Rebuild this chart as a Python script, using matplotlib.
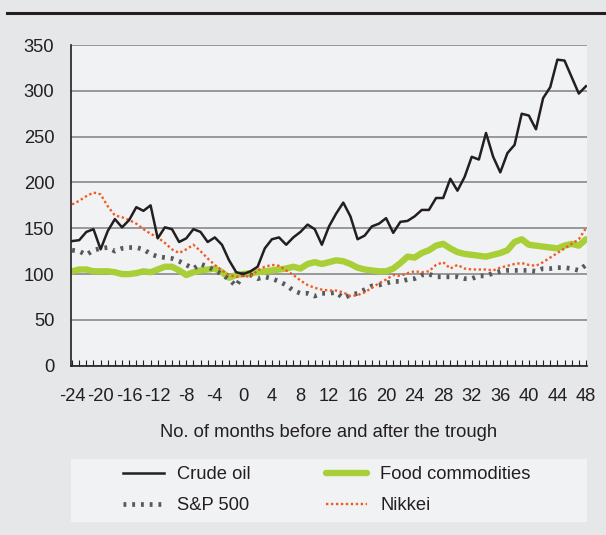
import matplotlib
matplotlib.use('Agg')
import matplotlib.pyplot as plt
from matplotlib.lines import Line2D
from matplotlib.patches import Rectangle
from matplotlib.ticker import MultipleLocator

plt.rcParams['font.family'] = ['Liberation Sans', 'DejaVu Sans']
plt.rcParams['axes.unicode_minus'] = False

# months relative to the trough
months = list(range(-24, 49))

crude_oil = [
    136, 137, 146, 149, 127, 147, 160, 151, 159, 173, 169, 175,   # -24..-13
    139, 151, 149, 135, 139, 149, 146, 135, 140, 132, 115, 102,   # -12..-1
    100, 103, 108, 128, 138, 140, 132, 140, 146, 154, 149, 132,   # 0..11
    152, 166, 178, 163, 138, 142, 152, 155, 161, 145, 157, 158,   # 12..23
    163, 170, 170, 183, 183, 204, 191, 206, 228, 225, 254, 228,   # 24..35
    211, 232, 241, 275, 273, 258, 292, 304, 334, 333, 315, 297,   # 36..47
    305,                                                          # 48
]

food = [
    103, 105, 105, 103, 103, 103, 102, 100, 100, 101, 103, 102,
    105, 108, 108, 104, 99, 102, 104, 105, 106, 102, 96, 99,
    100, 101, 102, 103, 104, 105, 106, 108, 106, 111, 113, 111,
    113, 115, 114, 111, 107, 105, 104, 103, 103, 106, 112, 119,
    118, 123, 126, 131, 133, 128, 124, 122, 121, 120, 119, 121,
    123, 126, 135, 138, 132, 131, 130, 129, 128, 131, 133, 131,
    138,
]

sp500 = [
    126, 125, 121, 126, 128, 129, 125, 128, 129, 129, 127, 122,
    119, 118, 117, 114, 110, 106, 111, 108, 104, 100, 94, 87,
    100, 99, 95, 97, 95, 92, 88, 82, 79, 79, 76, 79,
    79, 80, 74, 77, 79, 83, 87, 88, 90, 92, 92, 94,
    95, 99, 100, 97, 97, 97, 97, 95, 95, 98, 98, 101,
    103, 104, 104, 104, 104, 103, 106, 106, 107, 107, 106, 104,
    110,
]

nikkei = [
    176, 180, 185, 189, 187, 174, 164, 162, 159, 155, 149, 144,
    140, 134, 127, 123, 127, 132, 125, 117, 110, 104, 99, 97,
    98, 97, 104, 108, 110, 109, 104, 99, 93, 88, 85, 83,
    82, 82, 80, 76, 77, 80, 85, 90, 94, 99, 98, 101,
    103, 102, 103, 110, 113, 106, 110, 106, 105, 105, 105, 104,
    107, 109, 111, 112, 110, 109, 113, 118, 123, 128, 133, 138,
    150,
]

W, H = 606, 535
FS = 13.2
fig = plt.figure(figsize=(W / 100, H / 100), dpi=100, facecolor='#e6e7e8')

# black rule on top
fig.add_artist(Line2D([7 / W, 1], [1 - 13 / H, 1 - 13 / H], color='#231f20', lw=2.2))

ax = fig.add_axes([71 / W, (H - 365.7) / H, (587 - 71) / W, (365.7 - 45) / H])
ax.set_facecolor('#f1f2f4')

ax.plot(months, crude_oil, color='#231f20', lw=1.8, label='Crude oil', zorder=4)
ax.plot(months, sp500, color='#58595b', lw=3.4, ls=(0, (0.6, 1.25)),
        label='S&P 500', zorder=3)
ax.plot(months, food, color='#a9cf38', lw=4.6, solid_capstyle='round',
        solid_joinstyle='round', label='Food commodities', zorder=2)
ax.plot(months, nikkei, color='#f15a24', lw=1.7, ls=(0, (1, 1.1)),
        label='Nikkei', zorder=3)

ax.set_xlim(-24.15, 48.15)
ax.set_ylim(0, 350)
ax.xaxis.set_major_locator(MultipleLocator(4))
ax.xaxis.set_minor_locator(MultipleLocator(1))
ax.yaxis.set_major_locator(MultipleLocator(50))

ax.tick_params(axis='x', which='both', direction='in', length=4.3, width=0.8,
               color='#231f20', labelsize=FS, labelcolor='#231f20', pad=16)
ax.tick_params(axis='y', length=0, labelsize=FS, labelcolor='#231f20', pad=12)

ax.grid(axis='y', color='#808080', lw=1.1)
ax.set_axisbelow(True)
for s in ['top', 'right']:
    ax.spines[s].set_visible(False)
ax.spines['left'].set_color('#231f20')
ax.spines['left'].set_linewidth(1.2)
ax.spines['bottom'].set_color('#231f20')
ax.spines['bottom'].set_linewidth(1.2)
ax.spines['bottom'].set_zorder(5)

ax.set_xlabel('No. of months before and after the trough', fontsize=FS,
              color='#231f20', labelpad=14)

# legend box
fig.patches.append(Rectangle((71 / W, (H - 522) / H), 516 / W, 63 / H,
                             transform=fig.transFigure, facecolor='#f1f2f4',
                             edgecolor='none', zorder=0))
handles, labels = ax.get_legend_handles_labels()
fig.legend(handles, labels,
           ncol=2, loc='upper left', bbox_to_anchor=(114 / W, 1 - 457 / H),
           frameon=False, borderpad=0, handlelength=2.2, handletextpad=0.76,
           columnspacing=4.1, labelspacing=0.78, fontsize=FS,
           labelcolor='#231f20')

fig.savefig('out.png', dpi=100, facecolor=fig.get_facecolor())
